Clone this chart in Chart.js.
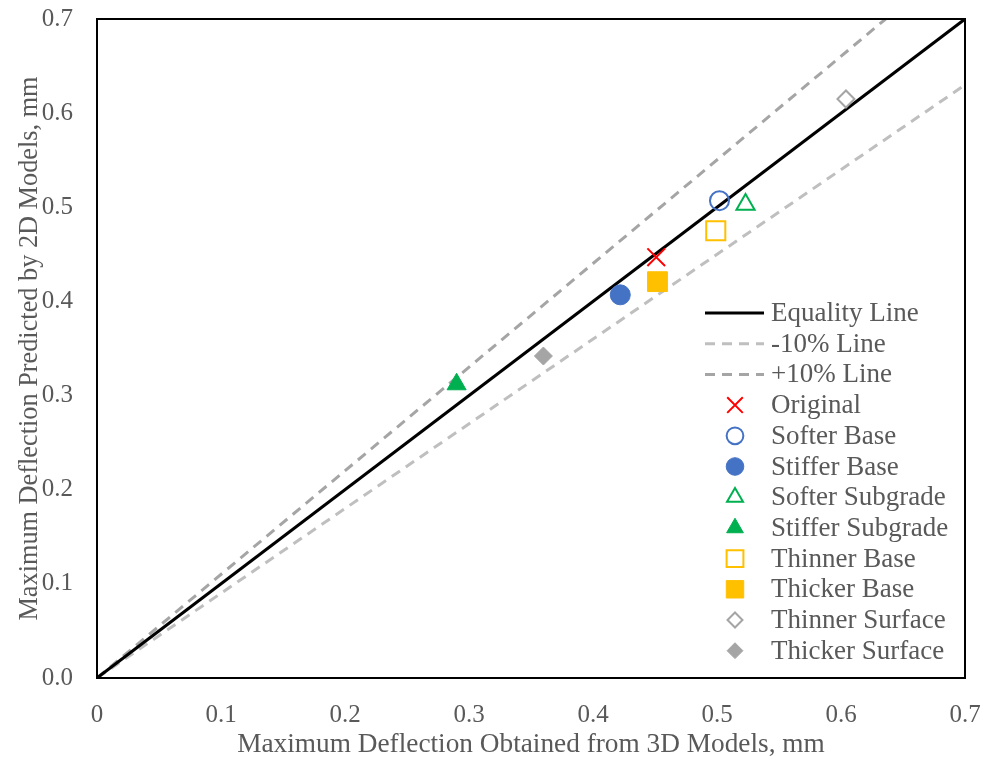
<!DOCTYPE html>
<html>
<head>
<meta charset="utf-8">
<script src="https://cdn.jsdelivr.net/npm/chart.js@4"></script>
<style>
  body { margin: 0; background: #fff; }
  #wrap { width: 987px; height: 761px; }
</style>
</head>
<body>
<div id="wrap"><canvas id="deflection"></canvas></div>
<script>
/* globals Chart:false */

// reference lines (x, y in mm)
const equalityX = [0, 0.7];
const equalityY = [0, 0.7];
const minus10X = [0, 0.7];
const minus10Y = [0, 0.63];
const plus10X = [0, 0.636];
const plus10Y = [0, 0.7];

// model cases: 3D deflection (x) vs 2D deflection (y)
const caseNames = ['Original', 'Softer Base', 'Stiffer Base', 'Softer Subgrade', 'Stiffer Subgrade',
  'Thinner Base', 'Thicker Base', 'Thinner Surface', 'Thicker Surface'];
const case3D = [0.451, 0.502, 0.422, 0.523, 0.290, 0.499, 0.452, 0.604, 0.360];
const case2D = [0.447, 0.507, 0.407, 0.503, 0.312, 0.475, 0.421, 0.615, 0.342];

const xTicks = [0, 0.1, 0.2, 0.3, 0.4, 0.5, 0.6, 0.7];
const yTicks = [0, 0.1, 0.2, 0.3, 0.4, 0.5, 0.6, 0.7];

const FONT = "'Liberation Serif', 'Times New Roman', serif";
const TEXT = '#595959';

const toPoints = (xs, ys) => xs.map((x, i) => ({ x: x, y: ys[i] }));

// marker styles per case
const markers = [
  { style: 'crossRot', color: '#FF0000', filled: false, r: 12.5 },
  { style: 'circle', color: '#4472C4', filled: false, r: 9.5 },
  { style: 'circle', color: '#4472C4', filled: true, r: 10 },
  { style: 'triangle', color: '#00B050', filled: false, r: 10.5 },
  { style: 'triangle', color: '#00B050', filled: true, r: 11 },
  { style: 'rect', color: '#FFC000', filled: false, r: 13.5 },
  { style: 'rect', color: '#FFC000', filled: true, r: 14 },
  { style: 'rectRot', color: '#A5A5A5', filled: false, r: 8.5 },
  { style: 'rectRot', color: '#A5A5A5', filled: true, r: 9 }
];

const lineSet = (label, xs, ys, color, dash) => ({
  type: 'line',
  label: label,
  data: toPoints(xs, ys),
  borderColor: color,
  borderWidth: 3,
  borderDash: dash,
  pointRadius: 0,
  fill: false,
  tension: 0,
  order: 1
});

const datasets = [
  lineSet('Equality Line', equalityX, equalityY, '#000000', []),
  lineSet('-10% Line', minus10X, minus10Y, '#BFBFBF', [10, 7]),
  lineSet('+10% Line', plus10X, plus10Y, '#A5A5A5', [10, 7])
];

caseNames.forEach((name, i) => {
  const m = markers[i];
  datasets.push({
    label: name,
    data: [{ x: case3D[i], y: case2D[i] }],
    pointStyle: m.style,
    pointRadius: m.r,
    pointHoverRadius: m.r,
    pointBackgroundColor: m.filled ? m.color : 'rgba(0,0,0,0)',
    pointBorderColor: m.color,
    pointBorderWidth: m.filled ? 1 : 2,
    showLine: false,
    order: 0
  });
});

// frame around the plot area
const frame = {
  id: 'frame',
  afterDatasetsDraw(chart) {
    const a = chart.chartArea;
    const ctx = chart.ctx;
    ctx.save();
    ctx.strokeStyle = '#000';
    ctx.lineWidth = 2;
    ctx.strokeRect(a.left, a.top, a.right - a.left, a.bottom - a.top);
    ctx.restore();
  }
};

// legend drawn inside the plot, lower right
const innerLegend = {
  id: 'innerLegend',
  afterDraw(chart) {
    const a = chart.chartArea;
    const ctx = chart.ctx;
    const x0 = a.left + 608;
    const y0 = a.top + 294;
    const step = 30.7;
    ctx.save();
    ctx.font = '27px ' + FONT;
    ctx.textBaseline = 'middle';
    ctx.textAlign = 'left';
    chart.data.datasets.forEach((ds, i) => {
      const y = y0 + i * step;
      if (ds.type === 'line') {
        ctx.beginPath();
        ctx.strokeStyle = ds.borderColor;
        ctx.lineWidth = 3;
        ctx.setLineDash(ds.borderDash);
        ctx.moveTo(x0, y);
        ctx.lineTo(x0 + 59, y);
        ctx.stroke();
        ctx.setLineDash([]);
      } else {
        ctx.fillStyle = ds.pointBackgroundColor;
        ctx.strokeStyle = ds.pointBorderColor;
        ctx.lineWidth = ds.pointBorderWidth;
        Chart.helpers.drawPoint(ctx, {
          pointStyle: ds.pointStyle,
          radius: ds.pointRadius * 0.88,
          rotation: 0,
          borderWidth: ds.pointBorderWidth
        }, x0 + 30, y);
      }
      ctx.fillStyle = TEXT;
      ctx.fillText(ds.label, x0 + 66, y + 1);
    });
    ctx.restore();
  }
};

new Chart(document.getElementById('deflection'), {
  type: 'scatter',
  data: { datasets: datasets },
  plugins: [frame, innerLegend],
  options: {
    responsive: true,
    maintainAspectRatio: false,
    animation: false,
    layout: { padding: { top: 19, right: 22, left: 0, bottom: 0 } },
    plugins: {
      legend: { display: false },
      tooltip: { enabled: false }
    },
    scales: {
      x: {
        type: 'linear',
        min: 0,
        max: 0.7,
        afterBuildTicks: (s) => { s.ticks = xTicks.map(v => ({ value: v })); },
        afterFit: (s) => {
          s.height = 83;
          s.paddingLeft = 0;
          s.paddingRight = 0;
        },
        grid: { display: false, drawTicks: false },
        border: { display: false },
        ticks: {
          padding: 22,
          color: TEXT,
          font: { family: FONT, size: 25 },
          maxRotation: 0,
          callback: (v) => (v === 0 ? '0' : v.toFixed(1))
        },
        title: {
          display: true,
          text: 'Maximum Deflection Obtained from 3D Models, mm',
          color: TEXT,
          font: { family: FONT, size: 27.3 },
          padding: { top: 0, bottom: 0 }
        }
      },
      y: {
        type: 'linear',
        min: 0,
        max: 0.7,
        afterBuildTicks: (s) => { s.ticks = yTicks.map(v => ({ value: v })); },
        afterFit: (s) => {
          s.width = 97;
          s.paddingTop = 0;
          s.paddingBottom = 0;
        },
        grid: { display: false, drawTicks: false },
        border: { display: false },
        ticks: {
          padding: 24,
          color: TEXT,
          font: { family: FONT, size: 25 },
          callback: (v) => v.toFixed(1)
        },
        title: {
          display: true,
          text: 'Maximum Deflection Predicted by 2D Models, mm',
          color: TEXT,
          font: { family: FONT, size: 26.3 },
          padding: { top: 14, bottom: 0 }
        }
      }
    }
  }
});
</script>
</body>
</html>
